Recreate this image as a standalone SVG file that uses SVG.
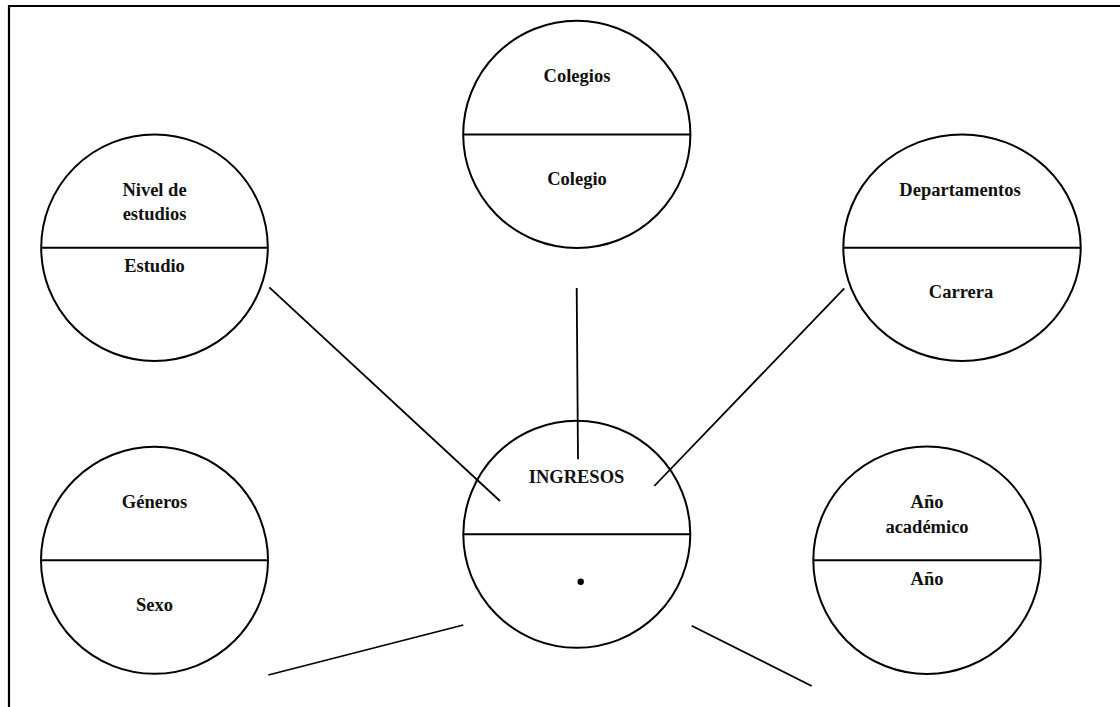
<svg xmlns="http://www.w3.org/2000/svg" width="1120" height="707" viewBox="0 0 1120 707">
  <style>
    .frame { fill: none; stroke: #000; stroke-width: 2.2; }
    .node { fill: none; stroke: #000; stroke-width: 2; }
    .div { stroke: #000; stroke-width: 2; }
    .link { stroke: #000; stroke-width: 1.8; fill: none; }
    text { font-family: "Liberation Serif", "Times New Roman", serif; font-weight: bold; font-size: 18.5px; fill: #111; text-anchor: middle; }
  </style>
  <rect width="1120" height="707" fill="#fff"/>
  <!-- page frame: top and left edges -->
  <path class="frame" d="M1120 6 H9 V707"/>

  <g id="connectors">
    <line class="link" x1="269.3" y1="287.3" x2="500" y2="501"/>
    <line class="link" x1="576.7" y1="288" x2="578" y2="459.3"/>
    <line class="link" x1="844.3" y1="288.3" x2="654.3" y2="486"/>
    <line class="link" x1="268.3" y1="675" x2="463.3" y2="625"/>
    <line class="link" x1="691.7" y1="625.7" x2="811.7" y2="686"/>
  </g>

  <g id="nivel-estudios">
    <circle class="node" cx="154.5" cy="247.7" r="113.3"/>
    <line class="div" x1="41.2" y1="247.7" x2="267.8" y2="247.7"/>
    <text x="154.5" y="196">Nivel de</text>
    <text x="154.5" y="220">estudios</text>
    <text x="154.5" y="271.5">Estudio</text>
  </g>

  <g id="colegios">
    <circle class="node" cx="576.8" cy="134.4" r="113.6"/>
    <line class="div" x1="463.2" y1="134.4" x2="690.4" y2="134.4"/>
    <text x="577" y="81.5">Colegios</text>
    <text x="577" y="185">Colegio</text>
  </g>

  <g id="departamentos">
    <ellipse class="node" cx="962" cy="247.7" rx="118.7" ry="113.3"/>
    <line class="div" x1="843.3" y1="247.7" x2="1080.7" y2="247.7"/>
    <text x="960" y="196">Departamentos</text>
    <text x="961" y="297.5">Carrera</text>
  </g>

  <g id="generos">
    <circle class="node" cx="154.5" cy="560.3" r="113.5"/>
    <line class="div" x1="41" y1="560.3" x2="268" y2="560.3"/>
    <text x="154.5" y="507.5">Géneros</text>
    <text x="154.5" y="610.5">Sexo</text>
  </g>

  <g id="ingresos">
    <circle class="node" cx="576.8" cy="534.3" r="113.5"/>
    <line class="div" x1="463.3" y1="534.3" x2="690.3" y2="534.3"/>
    <text x="576.5" y="483.3">INGRESOS</text>
    <circle cx="580.7" cy="581.7" r="3.2" fill="#000"/>
  </g>

  <g id="anio-academico">
    <circle class="node" cx="927" cy="560.3" r="113.7"/>
    <line class="div" x1="813.3" y1="560.3" x2="1040.7" y2="560.3"/>
    <text x="927" y="507.5">Año</text>
    <text x="927" y="532.5">académico</text>
    <text x="927" y="585">Año</text>
  </g>
</svg>
